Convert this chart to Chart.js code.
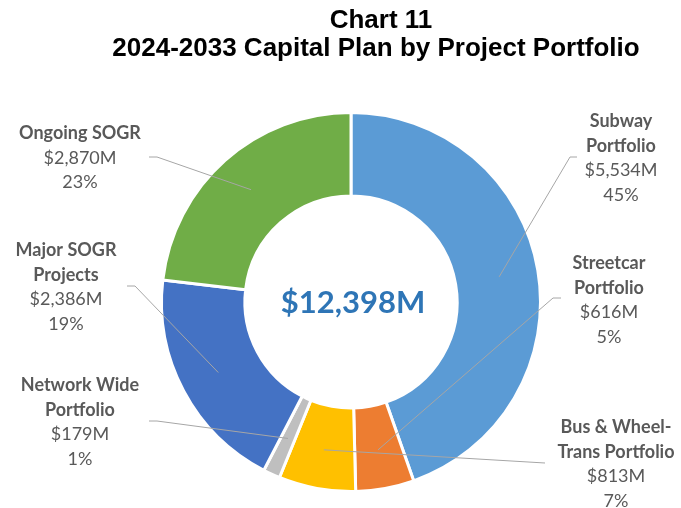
<!DOCTYPE html>
<html>
<head>
<meta charset="utf-8">
<script src="https://cdn.jsdelivr.net/npm/chart.js@4"></script>
<style>
  html, body { margin: 0; padding: 0; background: #fff; }
  #wrap { width: 681px; height: 508px; position: relative; }
</style>
</head>
<body>
<div id="wrap"><canvas id="chart-capital"></canvas></div>
<script>
// data
var portfolios = ['Subway Portfolio', 'Streetcar Portfolio', 'Bus & Wheel-Trans Portfolio',
                  'Network Wide Portfolio', 'Major SOGR Projects', 'Ongoing SOGR'];
var amounts = [5534, 616, 813, 179, 2386, 2870];
var amountLabels = ['$5,534M', '$616M', '$813M', '$179M', '$2,386M', '$2,870M'];
var shareLabels = ['45%', '5%', '7%', '1%', '19%', '23%'];
var nameLines = [['Subway', 'Portfolio'], ['Streetcar', 'Portfolio'], ['Bus & Wheel-', 'Trans Portfolio'],
                 ['Network Wide', 'Portfolio'], ['Major SOGR', 'Projects'], ['Ongoing SOGR']];
var totalLabel = '$12,398M';
var titleLines = ['Chart 11', '2024-2033 Capital Plan by Project Portfolio'];
var sliceColors = ['#5B9BD5', '#ED7D31', '#FFC000', '#BFBFBF', '#4472C4', '#70AD47'];

// where each label block sits and where its leader line meets it
var labelPos = [
    { x: 621, y: 121, line: [[570, 157], [577, 157]] },
    { x: 609, y: 263, line: [[553, 298], [561, 298]] },
    { x: 616, y: 427, line: [[545, 463]] },
    { x: 80,  y: 385, line: [[157, 421], [149, 421]] },
    { x: 66,  y: 250, line: [[135, 286], [127, 286]] },
    { x: 80,  y: 133, line: [[157, 157], [149, 157]] }
];
var lineStep = 24.7;

const outsideLabels = {
    id: 'outsideLabels',
    afterDatasetsDraw(chart) {
        const ctx = chart.ctx;
        const meta = chart.getDatasetMeta(0);
        ctx.save();
        // title
        ctx.fillStyle = '#000';
        ctx.textAlign = 'center';
        ctx.textBaseline = 'middle';
        ctx.font = 'bold 26px "Liberation Sans", Arial, sans-serif';
        ctx.fillText(titleLines[0], 381, 21);
        ctx.fillText(titleLines[1], 376, 49);

        // centre total
        ctx.fillStyle = '#2E75B6';
        ctx.font = 'bold 31px Lato, sans-serif';
        ctx.fillText(totalLabel, meta.data[0].x + 2, meta.data[0].y + 1);

        meta.data.forEach(function(arc, i) {
            const p = arc.getProps(['x', 'y', 'startAngle', 'endAngle', 'innerRadius', 'outerRadius'], true);
            const mid = (p.startAngle + p.endAngle) / 2;
            const r = p.innerRadius + 0.53 * (p.outerRadius - p.innerRadius);
            const pos = labelPos[i];
            ctx.strokeStyle = '#A6A6A6';
            ctx.lineWidth = 1;
            ctx.beginPath();
            ctx.moveTo(p.x + Math.cos(mid) * r, p.y + Math.sin(mid) * r);
            pos.line.forEach(function(pt) { ctx.lineTo(pt[0], pt[1]); });
            ctx.stroke();

            ctx.fillStyle = '#595959';
            let y = pos.y;
            ctx.font = 'bold 18px Lato, sans-serif';
            nameLines[i].forEach(function(t) { ctx.fillText(t, pos.x, y); y += lineStep; });
            ctx.font = '18px Lato, sans-serif';
            ctx.fillText(amountLabels[i], pos.x, y); y += lineStep;
            ctx.fillText(shareLabels[i], pos.x, y);
        });
        ctx.restore();
    }
};

new Chart(document.getElementById('chart-capital').getContext('2d'), {
    type: 'doughnut',
    data: {
        labels: portfolios,
        datasets: [{
            data: amounts,
            backgroundColor: sliceColors,
            borderColor: '#ffffff',
            borderWidth: 3
        }]
    },
    options: {
        responsive: true,
        maintainAspectRatio: false,
        animation: false,
        cutout: '56%',
        layout: { padding: { left: 160, right: 139, top: 111, bottom: 15 } },
        plugins: {
            legend: { display: false },
            tooltip: { enabled: false },
            title: { display: false }
        }
    },
    plugins: [outsideLabels]
});
</script>
</body>
</html>
